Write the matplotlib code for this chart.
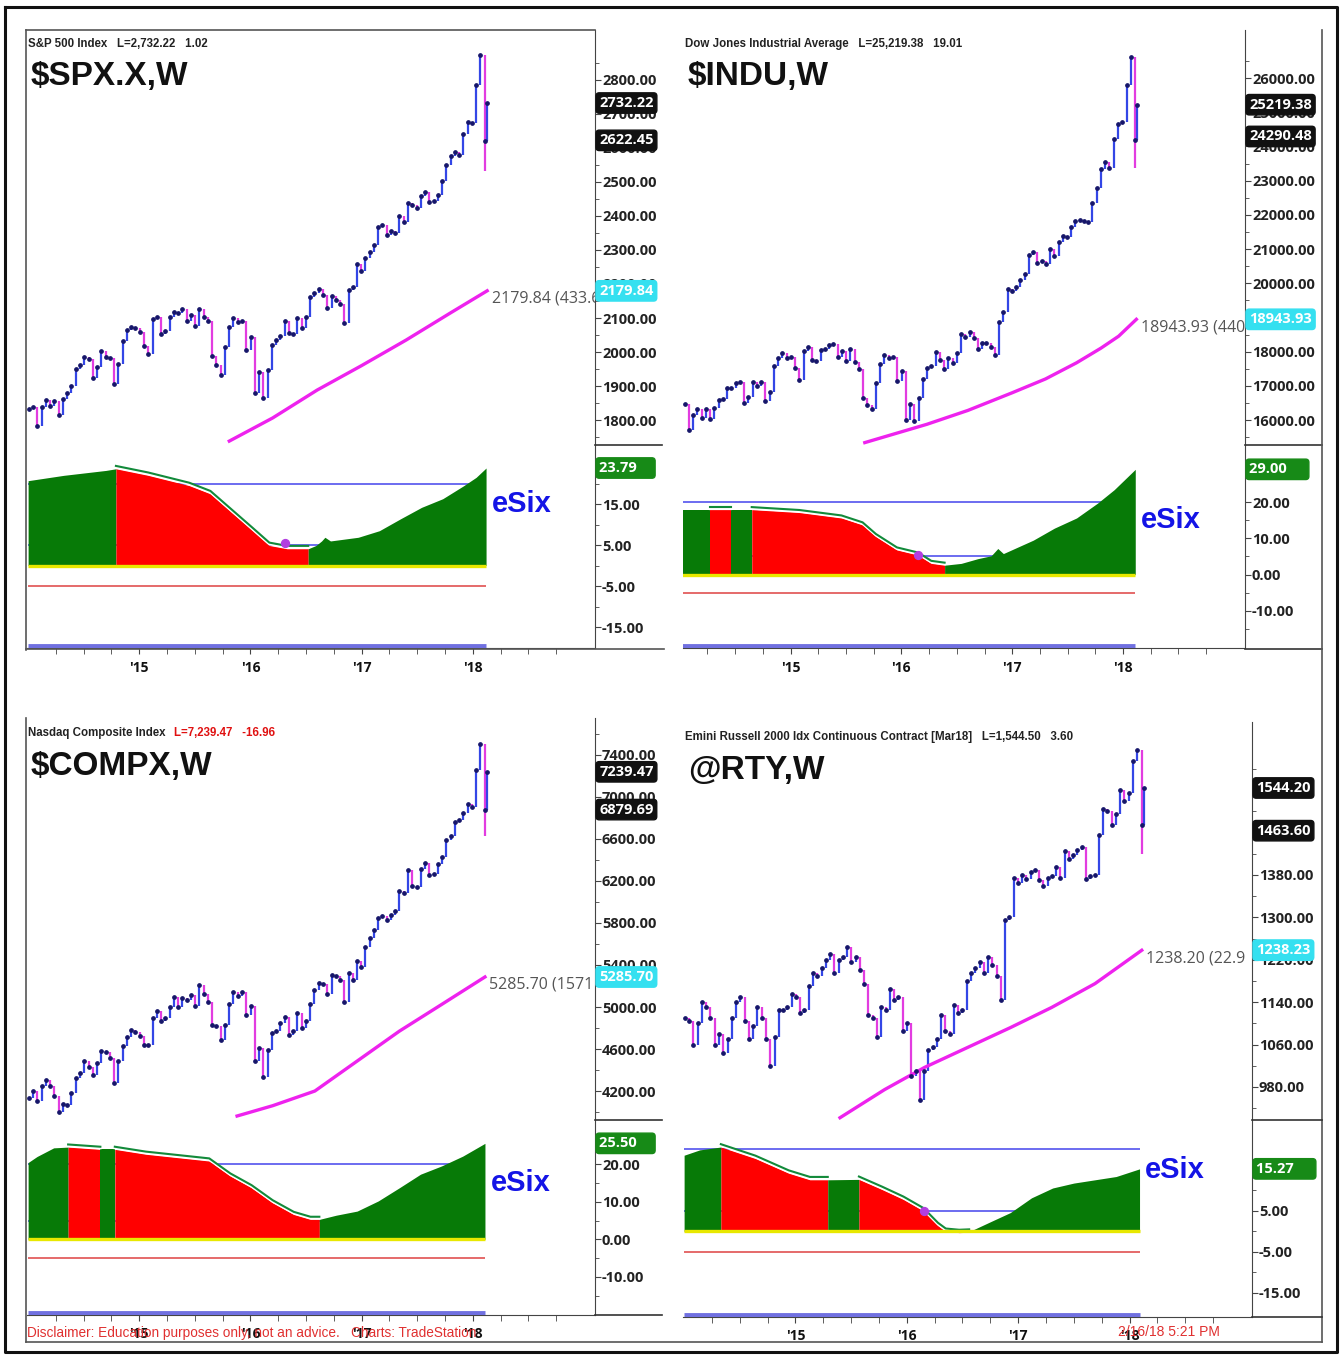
import numpy as np
import pandas as pd
import matplotlib
matplotlib.use("Agg")
import matplotlib.pyplot as plt
from matplotlib.lines import Line2D
from matplotlib.ticker import FixedLocator, FuncFormatter

plt.rcParams['font.family'] = ['Open Sans', 'DejaVu Sans']
plt.rcParams['font.weight'] = 'bold'
NARROW = ['Liberation Sans', 'DejaVu Sans']

W, H = 1341, 1360

# biweekly closes from Jan 3 2014 to Feb 9 2018, plus the week of Feb 16 2018
week_dates = list(pd.date_range("2014-01-03", "2018-02-09", freq="14D")) + [pd.Timestamp("2018-02-16")]

spx_close = [1831, 1838, 1782, 1838, 1859, 1841, 1857, 1815, 1863, 1878, 1900, 1949, 1963, 1985, 1978, 1925,
             1955, 2003, 1985, 1982, 1906, 1964, 2032, 2064, 2075, 2070,
             2058, 2019, 1995, 2097, 2104, 2053, 2061, 2102, 2117, 2116, 2126, 2092, 2110, 2077, 2127, 2104,
             2092, 1989, 1961, 1931, 2014, 2075, 2099, 2089, 2092, 2006,
             2044, 1880, 1940, 1865, 1948, 2022, 2035, 2048, 2092, 2057, 2052, 2099, 2071, 2103, 2162, 2174,
             2184, 2169, 2128, 2165, 2153, 2141, 2085, 2182, 2192, 2258, 2239,
             2275, 2295, 2316, 2367, 2373, 2344, 2355, 2349, 2399, 2382, 2439, 2433, 2423, 2459, 2472, 2441,
             2443, 2461, 2502, 2549, 2575, 2588, 2579, 2642, 2676, 2674,
             2786, 2873, 2620, 2732]
dji_close = [16470, 16458, 15699, 16154, 16322, 16066, 16323, 16027, 16361, 16583, 16606, 16924, 16948, 17068,
             17100, 16493, 16663, 17098, 16988, 17113, 16544, 16805, 17573, 17810, 17959, 17805,
             17833, 17511, 17165, 18019, 18133, 17749, 17712, 18058, 18080, 18191, 18232, 17849, 18015, 17730,
             18086, 17690, 17477, 16643, 16433, 16315, 17084, 17646, 17910, 17824, 17848, 17128,
             17425, 15988, 16466, 15974, 16640, 17213, 17515, 17577, 18003, 17740, 17500, 17807, 17675, 17949,
             18516, 18432, 18576, 18395, 18085, 18262, 18240, 18145, 17888, 18868, 19171, 19843, 19763,
             19885, 20094, 20269, 20822, 20903, 20597, 20656, 20548, 21007, 20805, 21206, 21384, 21350, 21638,
             21830, 21858, 21814, 21798, 22350, 22774, 23329, 23539, 23358, 24231, 24652, 24719,
             25803, 26617, 24191, 25219]
compx_close = [4132, 4197, 4104, 4244, 4308, 4245, 4155, 3999, 4075, 4071, 4185, 4321, 4368, 4485, 4432, 4353,
               4464, 4580, 4567, 4512, 4276, 4483, 4633, 4712, 4781, 4765,
               4727, 4634, 4635, 4893, 4964, 4871, 4892, 4996, 5092, 5003, 5090, 5068, 5117, 5009, 5210, 5128,
               5048, 4828, 4822, 4687, 4830, 5032, 5147, 5105, 5142, 4923,
               5007, 4488, 4614, 4338, 4590, 4748, 4773, 4851, 4906, 4737, 4770, 4943, 4801, 4863, 5030, 5162,
               5233, 5219, 5126, 5306, 5292, 5258, 5046, 5322, 5256, 5437, 5383,
               5575, 5660, 5734, 5845, 5862, 5829, 5878, 5910, 6101, 6084, 6306, 6151, 6140, 6312, 6374, 6256,
               6265, 6360, 6426, 6590, 6629, 6764, 6783, 6848, 6936, 6903,
               7261, 7505, 6874, 7239]
rty_close = [1110, 1105, 1060, 1100, 1140, 1130, 1110, 1060, 1080, 1045, 1070, 1110, 1140, 1150, 1105, 1070,
             1095, 1130, 1110, 1070, 1020, 1075, 1125, 1125, 1130, 1155,
             1150, 1120, 1125, 1170, 1195, 1190, 1205, 1220, 1230, 1195, 1220, 1225, 1245, 1215, 1225, 1200,
             1175, 1115, 1110, 1075, 1130, 1125, 1165, 1145, 1150, 1085,
             1100, 1000, 1010, 955, 1010, 1050, 1055, 1070, 1115, 1085, 1080, 1135, 1120, 1125, 1180, 1195,
             1205, 1215, 1195, 1225, 1210, 1190, 1145, 1295, 1300, 1375, 1365,
             1380, 1372, 1385, 1390, 1370, 1360, 1375, 1378, 1395, 1375, 1425, 1410, 1418, 1428, 1432, 1372,
             1378, 1380, 1455, 1505, 1500, 1475, 1495, 1540, 1520, 1535,
             1595, 1615, 1475, 1544]
# intraweek low of the Feb 9 2018 selloff bar
spx_feb_low, dji_feb_low, compx_feb_low, rty_feb_low = 2533, 23360, 6630, 1420

# magenta trend line
spx_ma_x = [2015.81, 2016.2, 2016.6, 2017.0, 2017.4, 2017.8, 2018.13]
spx_ma_y = [1738, 1806, 1888, 1960, 2035, 2115, 2180]
dji_ma_x = [2015.67, 2016.23, 2016.6, 2017.0, 2017.3, 2017.58, 2017.8, 2017.96, 2018.12]
dji_ma_y = [15339, 15874, 16280, 16797, 17200, 17672, 18100, 18450, 18944]
compx_ma_x = [2015.88, 2016.2, 2016.58, 2016.96, 2017.34, 2017.72, 2018.11]
compx_ma_y = [3962, 4060, 4200, 4485, 4770, 5024, 5286]
rty_ma_x = [2015.4, 2015.8, 2016.16, 2016.55, 2016.93, 2017.3, 2017.69, 2018.11]
rty_ma_y = [922, 975, 1017, 1055, 1092, 1130, 1175, 1238]

# eSix indicator (knots) and the spans drawn red
spx_esix_x = [2014.0, 2014.32, 2014.70, 2014.79, 2015.08, 2015.45, 2015.64, 2015.83, 2016.02, 2016.17, 2016.33,
              2016.52, 2016.59, 2016.64, 2016.67, 2016.72, 2016.97, 2017.16, 2017.35, 2017.54, 2017.73, 2017.92,
              2018.03, 2018.12]
spx_esix_y = [20.7, 22.0, 23.2, 23.6, 22.0, 19.5, 17.5, 13.0, 8.5, 4.9, 4.1, 4.1, 4.9, 6.0, 6.9, 6.0, 6.9, 8.5,
              11.4, 14.2, 16.3, 19.5, 21.5, 23.79]
spx_esix_red = [(2014.79, 2016.52)]
dji_esix_x = [2014.02, 2014.27, 2014.46, 2014.65, 2015.08, 2015.46, 2015.65, 2015.77, 2015.96, 2016.15, 2016.27,
              2016.39, 2016.54, 2016.69, 2016.81, 2016.87, 2016.92, 2017.19, 2017.38, 2017.58, 2017.77, 2017.92,
              2018.11]
dji_esix_y = [17.9, 17.9, 17.9, 17.9, 17.1, 15.6, 13.7, 10.5, 6.8, 5.4, 3.1, 2.6, 3.1, 4.4, 5.2, 7.2, 5.8, 9.5,
              12.8, 15.6, 19.7, 23.4, 29.0]
dji_esix_red = [(2014.27, 2014.46), (2014.65, 2016.39)]
compx_esix_x = [2014.0, 2014.08, 2014.23, 2014.36, 2014.65, 2014.78, 2015.06, 2015.44, 2015.63, 2015.82, 2016.01,
                2016.20, 2016.39, 2016.54, 2016.62, 2016.77, 2016.96, 2017.15, 2017.34, 2017.53, 2017.72,
                2017.91, 2018.11]
compx_esix_y = [20.4, 22.0, 24.3, 24.5, 23.9, 23.9, 22.6, 21.4, 20.8, 16.8, 13.7, 9.7, 6.6, 5.3, 5.3, 6.4, 7.5,
                10.2, 13.7, 17.3, 19.5, 22.1, 25.5]
compx_esix_red = [(2014.36, 2014.65), (2014.78, 2016.62)]
rty_esix_x = [2014.0, 2014.14, 2014.33, 2014.64, 2014.94, 2015.13, 2015.29, 2015.57, 2015.78, 2015.97, 2016.15,
              2016.28, 2016.35, 2016.47, 2016.56, 2016.58, 2016.77, 2016.93, 2017.12, 2017.31, 2017.50, 2017.69,
              2017.88, 2018.09]
rty_esix_y = [18.6, 19.9, 20.6, 17.8, 14.2, 12.6, 12.6, 12.7, 10.2, 7.8, 5.0, 1.4, 0.0, -0.3, -0.2, 0.2, 2.6,
              4.6, 8.2, 10.6, 11.8, 12.6, 13.4, 15.27]
rty_esix_red = [(2014.33, 2015.29), (2015.57, 2016.56)]

UP, DOWN = '#3346e6', '#e23ce0'
GREEN, RED = '#077a07', '#ff0000'

fig = plt.figure(figsize=(W / 100, H / 100), dpi=100)
fig.patch.set_facecolor('white')


def rect(x0, y0, x1, y1):
    return [x0 / W, 1 - y1 / H, (x1 - x0) / W, (y1 - y0) / H]


def ftext(x, y, s, **kw):
    return fig.text(x / W, 1 - y / H, s, **kw)


def fline(xs, ys, color='#555555', lw=1.2):
    fig.add_artist(Line2D([x / W for x in xs], [1 - y / H for y in ys], color=color, lw=lw))


def frac_year(d):
    return d.year + (d.dayofyear - 0.5) / 365.25


xs = np.array([frac_year(d) for d in week_dates])


def value_box(ax, val, label, face, size=10.5):
    ax.annotate(label, xy=(1, val), xycoords=ax.get_yaxis_transform(), xytext=(3, 0),
                textcoords='offset points', ha='left', va='center', color='white', fontsize=size,
                fontweight='bold', zorder=10, annotation_clip=False,
                bbox=dict(boxstyle='round,pad=0.22', fc=face, ec=face))


def right_axis(ax, ylim, major, minor):
    ax.set_ylim(*ylim)
    for s in ['top', 'left', 'bottom']:
        ax.spines[s].set_visible(False)
    ax.spines['right'].set_color('#444444')
    ax.yaxis.tick_right()
    ax.yaxis.set_major_locator(FixedLocator(major))
    ax.yaxis.set_minor_locator(FixedLocator(minor))
    ax.yaxis.set_major_formatter(FuncFormatter(lambda v, p: f"{v:.2f}"))
    ax.tick_params(axis='y', which='both', direction='out', colors='#444444', labelcolor='#222222',
                   labelsize=10.5, pad=1)
    ax.tick_params(axis='y', which='major', length=4)
    ax.tick_params(axis='y', which='minor', length=3)


def draw_price(ax, xlim, close, feb_low, ma_x, ma_y, ma_label, ylim, major, minor, boxes):
    close = np.array(close, dtype=float)
    prev = np.concatenate([[close[0]], close[:-1]])
    lo = np.minimum(prev, close)
    hi = np.maximum(prev, close)
    lo[-2] = min(lo[-2], feb_low)
    cols = [UP if c >= p else DOWN for c, p in zip(close, prev)]
    ax.vlines(xs, lo, hi, colors=cols, lw=1.6, zorder=2)
    ax.plot(xs, close, ls='none', marker='o', ms=2.4, color='#16166a', zorder=3)
    ax.plot(ma_x, ma_y, color='#ee22ee', lw=2.4, zorder=2)
    ax.text(ma_x[-1] + 0.04, ma_y[-1], ma_label, ha='left', va='top', fontsize=11.5,
            color='#555555', fontweight='normal', clip_on=True)
    ax.set_xlim(*xlim)
    ax.set_xticks([])
    right_axis(ax, ylim, major, minor)
    for val, label, face in boxes:
        value_box(ax, val, label, face)


def draw_esix(ax, xlim, ex, ey, red_spans, ylim, major, minor, dot, box):
    ex = np.array(ex)
    ey = np.array(ey)
    x0, x1 = ex[0], ex[-1]
    ax.hlines([20, 5], x0, x1, color='#6b6bf0', lw=1.4, zorder=1)
    edges = sorted(set([x0, x1] + [e for span in red_spans for e in span]))
    for a, b in zip(edges[:-1], edges[1:]):
        m = (ex >= a - 1e-9) & (ex <= b + 1e-9)
        color = RED if (a, b) in red_spans else GREEN
        ax.fill_between(ex[m], 0, ey[m], color=color, lw=0, zorder=2)
    for a, b in red_spans:
        m = (ex >= a - 1e-9) & (ex <= b + 1e-9)
        ax.plot(ex[m], ey[m] + 0.3, color='white', lw=1.6, zorder=3)
        ax.plot(ex[m], ey[m] + 0.7, color='#128a3a', lw=1.5, zorder=3)
    ax.hlines(0, x0, x1, color='#e8e800', lw=2.4, zorder=4)
    ax.hlines(-5, x0, x1, color='#e05050', lw=1.2, zorder=4)
    ax.hlines(ylim[0] + 0.6, x0, x1, color='#7070e0', lw=3.5, zorder=4)
    if dot is not None:
        ax.scatter([dot[0]], [dot[1]], s=32, color='#b23ee0', zorder=5)
    ax.text(x1 + 0.05, 15, 'eSix', family=NARROW, fontsize=21, color='#1414e6', fontweight='bold',
            ha='left', va='center')
    ax.set_xlim(*xlim)
    right_axis(ax, ylim, major, minor)
    ax.spines['bottom'].set_visible(True)
    ax.spines['bottom'].set_color('#444444')
    ax.xaxis.set_major_locator(FixedLocator([2015, 2016, 2017, 2018]))
    ax.xaxis.set_major_formatter(FuncFormatter(lambda v, p: "'" + str(int(round(v)))[2:]))
    ax.xaxis.set_minor_locator(FixedLocator([y + q for y in range(2014, 2019) for q in (0.25, 0.5, 0.75)]))
    ax.tick_params(axis='x', which='both', direction='out', colors='#444444', labelcolor='#111111',
                   labelsize=10, length=4, pad=5)
    value_box(ax, box[0], box[1], '#178a17')


# ---------------- S&P 500 ----------------
xl_l = (2013.99, 2019.1)
ax = fig.add_axes(rect(27, 30, 595, 445))
draw_price(ax, xl_l, spx_close, spx_feb_low, spx_ma_x, spx_ma_y, '2179.84 (433.6', (1726.5, 2947),
           list(range(1800, 2801, 100)), list(range(1750, 2901, 100)),
           [(2732.22, '2732.22', '#111111'), (2622.45, '2622.45', '#111111'), (2179.84, '2179.84', '#35e0f0')])
ax = fig.add_axes(rect(27, 445, 595, 648))
draw_esix(ax, xl_l, spx_esix_x, spx_esix_y, spx_esix_red, (-20.1, 29.4), [15, 5, -5, -15],
          [20, 10, 0, -10], (2016.31, 5.4), (23.79, '23.79    '))

# ---------------- Dow ----------------
xl_r = (2014.03, 2019.1)
ax = fig.add_axes(rect(683, 30, 1245, 445))
draw_price(ax, xl_r, dji_close, dji_feb_low, dji_ma_x, dji_ma_y, '18943.93 (440', (15269, 27404),
           list(range(16000, 26001, 1000)), list(range(15500, 27001, 1000)),
           [(25219.38, '25219.38', '#111111'), (24290.48, '24290.48', '#111111'),
            (18943.93, '18943.93', '#35e0f0')])
ax = fig.add_axes(rect(683, 445, 1245, 648))
draw_esix(ax, xl_r, dji_esix_x, dji_esix_y, dji_esix_red, (-20.2, 35.7), [20, 10, 0, -10],
          [15, 5, -5, -15], (2016.15, 5.4), (29.00, '29.00     '))

# ---------------- Nasdaq ----------------
ax = fig.add_axes(rect(27, 718, 595, 1120))
draw_price(ax, xl_l, compx_close, compx_feb_low, compx_ma_x, compx_ma_y, '5285.70 (1571', (3924, 7752),
           list(range(4200, 7401, 400)), list(range(4000, 7601, 400)),
           [(7239.47, '7239.47', '#111111'), (6879.69, '6879.69', '#111111'), (5285.70, '5285.70', '#35e0f0')])
ax_nq = ax
ax = fig.add_axes(rect(27, 1120, 595, 1315))
draw_esix(ax, xl_l, compx_esix_x, compx_esix_y, compx_esix_red, (-20.1, 31.7), [20, 10, 0, -10],
          [15, 5, -5, -15], None, (25.50, '25.50    '))

# ---------------- Russell 2000 ----------------
ax = fig.add_axes(rect(683, 722, 1252, 1120))
draw_price(ax, (2013.99, 2019.1), rty_close, rty_feb_low, rty_ma_x, rty_ma_y, '1238.20 (22.9',
           (917.7, 1668.7), list(range(980, 1541, 80)), list(range(940, 1621, 80)),
           [(1544.20, '1544.20', '#111111'), (1463.60, '1463.60', '#111111'), (1238.23, '1238.23', '#35e0f0')])
ax = fig.add_axes(rect(683, 1120, 1252, 1317))
draw_esix(ax, (2013.99, 2019.1), rty_esix_x, rty_esix_y, rty_esix_red, (-20.9, 27.2), [5, -5, -15],
          [15, 10, 0, -10], (2016.15, 5.0), (15.27, '15.27     '))

# ---------------- titles ----------------
sub = dict(family=NARROW, fontsize=8.3, fontweight='bold', color='#222222', va='center', ha='left')
big = dict(family=NARROW, fontsize=24, fontweight='bold', color='#111111', va='center', ha='left')
ftext(28, 44, 'S&P 500 Index   L=2,732.22   1.02', **sub)
ftext(31, 77, '\\$SPX.X,W', **big)
ftext(685, 44, 'Dow Jones Industrial Average   L=25,219.38   19.01', **sub)
ftext(688, 77, '\\$INDU,W', **big)
t_nq = ftext(28, 733, 'Nasdaq Composite Index', **sub)
ax_nq.annotate('L=7,239.47   -16.96', xy=(1, 0.5), xycoords=t_nq, xytext=(6, 0),
               textcoords='offset points', **dict(sub, color='#e01010'))
ftext(31, 766, '\\$COMPX,W', **big)
ftext(685, 737, 'Emini Russell 2000 Idx Continuous Contract [Mar18]   L=1,544.50   3.60', **sub)
ftext(688, 770, '@RTY,W', **big)

ftext(27, 1333, 'Disclaimer: Education purposes only, not an advice.   Charts: TradeStation',
      family=NARROW, fontsize=9.8, fontweight='normal', color='#e03030', va='center', ha='left')
ftext(1118, 1332, '2/16/18 5:21 PM', family=NARROW, fontsize=10, fontweight='normal', color='#e03030',
      va='center', ha='left')

# ---------------- frames ----------------
fline([5, 1337, 1337, 5, 5], [7, 7, 1352, 1352, 7], color='#111111', lw=2.2)
fline([26, 26], [30, 650])
fline([26, 595], [30, 30])
fline([26, 664], [649, 649])
fline([595, 662], [445, 445], color='#333333')
fline([1245, 1322], [445, 445], color='#333333')
fline([1245, 1322], [649, 649], color='#333333')
fline([1322, 1322], [30, 1342])
fline([26, 26], [718, 1342])
fline([26, 1322], [1342, 1342])
fline([595, 662], [1120, 1120], color='#333333')
fline([595, 662], [1315, 1315], color='#333333')
fline([1252, 1322], [1120, 1120], color='#333333')
fline([1252, 1322], [1317, 1317], color='#333333')

fig.savefig('out.png', dpi=100, facecolor='white')
